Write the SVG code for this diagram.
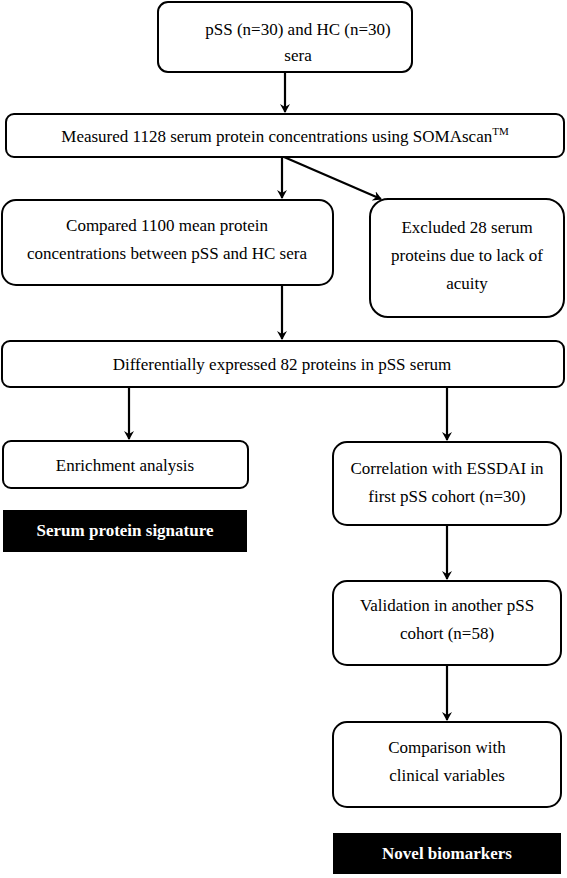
<svg xmlns="http://www.w3.org/2000/svg" width="567" height="878" viewBox="0 0 567 878">
<defs>
<style>
.box{fill:#fff;stroke:#000;stroke-width:2}
.blk{fill:#000;stroke:none}
.t{font-family:"Liberation Serif","Times New Roman",serif;font-size:17px;fill:#000;text-anchor:middle}
.tb{font-family:"Liberation Serif","Times New Roman",serif;font-size:17px;font-weight:bold;fill:#fff;text-anchor:middle}
.c{stroke:#000;stroke-width:2.2;fill:none}
</style>
<marker id="ah" markerWidth="10" markerHeight="10" refX="8" refY="5" orient="auto" markerUnits="userSpaceOnUse">
<path d="M0,0 L9,5 L0,10 L3,5 Z" fill="#000"/>
</marker>
</defs>
<rect width="567" height="878" fill="#fff"/>
<g id="connectors">
<line class="c" x1="285" y1="72" x2="285" y2="112" marker-end="url(#ah)"/>
<line class="c" x1="282" y1="157" x2="282" y2="198" marker-end="url(#ah)"/>
<line class="c" x1="284" y1="157" x2="381" y2="199" marker-end="url(#ah)"/>
<line class="c" x1="282" y1="285" x2="282" y2="339" marker-end="url(#ah)"/>
<line class="c" x1="129" y1="387" x2="129" y2="439" marker-end="url(#ah)"/>
<line class="c" x1="447" y1="387" x2="447" y2="440" marker-end="url(#ah)"/>
<line class="c" x1="447" y1="525" x2="447" y2="579" marker-end="url(#ah)"/>
<line class="c" x1="447" y1="665" x2="447" y2="720" marker-end="url(#ah)"/>
</g>
<g id="n1">
<rect class="box" x="158" y="2" width="254" height="70" rx="10"/>
<text class="t" x="298" y="35">pSS (n=30) and HC (n=30)</text>
<text class="t" x="298" y="61">sera</text>
</g>
<g id="n2">
<rect class="box" x="6" y="114" width="558" height="43" rx="8"/>
<text class="t" x="285" y="142">Measured 1128 serum protein concentrations using SOMAscan<tspan font-size="11" dy="-7">TM</tspan></text>
</g>
<g id="n3">
<rect class="box" x="2" y="200" width="331" height="85" rx="14"/>
<text class="t" x="167" y="231">Compared 1100 mean protein</text>
<text class="t" x="167" y="259">concentrations between pSS and HC sera</text>
</g>
<g id="n4">
<rect class="box" x="370" y="199" width="194" height="118" rx="18"/>
<text class="t" x="467" y="233">Excluded 28 serum</text>
<text class="t" x="467" y="261">proteins due to lack of</text>
<text class="t" x="467" y="289">acuity</text>
</g>
<g id="n5">
<rect class="box" x="2" y="341" width="562" height="46" rx="8"/>
<text class="t" x="282" y="370">Differentially expressed 82 proteins in pSS serum</text>
</g>
<g id="n6">
<rect class="box" x="3" y="441" width="245" height="47" rx="8"/>
<text class="t" x="125" y="471">Enrichment analysis</text>
</g>
<g id="n7">
<rect class="blk" x="3" y="510" width="244" height="42"/>
<text class="tb" x="125" y="536">Serum protein signature</text>
</g>
<g id="n8">
<rect class="box" x="333" y="442" width="228" height="83" rx="14"/>
<text class="t" x="447" y="474">Correlation with ESSDAI in</text>
<text class="t" x="447" y="502">first pSS cohort (n=30)</text>
</g>
<g id="n9">
<rect class="box" x="333" y="581" width="228" height="84" rx="14"/>
<text class="t" x="447" y="611">Validation in another pSS</text>
<text class="t" x="447" y="639">cohort (n=58)</text>
</g>
<g id="n10">
<rect class="box" x="333" y="722" width="228" height="85" rx="14"/>
<text class="t" x="447" y="753">Comparison with</text>
<text class="t" x="447" y="781">clinical variables</text>
</g>
<g id="n11">
<rect class="blk" x="333" y="833" width="228" height="41"/>
<text class="tb" x="447" y="859">Novel biomarkers</text>
</g>
</svg>
